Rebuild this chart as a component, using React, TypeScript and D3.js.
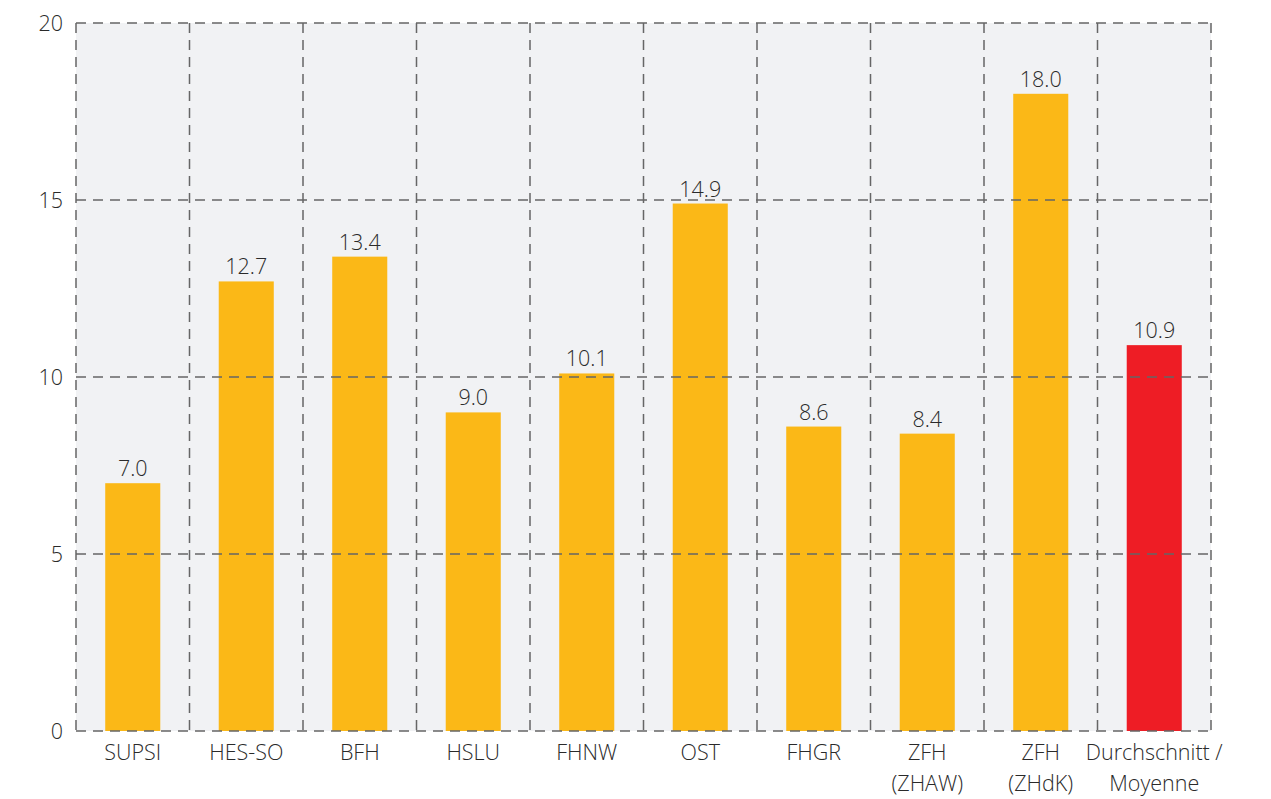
import * as d3 from "d3";

const categories = [
  ["SUPSI"],
  ["HES-SO"],
  ["BFH"],
  ["HSLU"],
  ["FHNW"],
  ["OST"],
  ["FHGR"],
  ["ZFH", "(ZHAW)"],
  ["ZFH", "(ZHdK)"],
  ["Durchschnitt /", "Moyenne"],
];
const values = [7.0, 12.7, 13.4, 9.0, 10.1, 14.9, 8.6, 8.4, 18.0, 10.9];
const yTicks = [0, 5, 10, 15, 20];

export default function App() {
  const width = 1271;
  const height = 799;
  const margin = { top: 23, right: 60, bottom: 68, left: 76 };
  const plotRight = width - margin.right;
  const plotBottom = height - margin.bottom;
  const font = "'Open Sans', 'Noto Sans', sans-serif";
  const fs = 21.5;
  const fw = 300;

  const keys = categories.map((c) => c.join(" "));

  const x = d3
    .scaleBand()
    .domain(keys)
    .range([margin.left, plotRight])
    .paddingInner(0)
    .paddingOuter(0);

  const y = d3.scaleLinear().domain([0, 20]).range([plotBottom, margin.top]);

  const barW = x.bandwidth() * 0.485;
  const dash = "10 7";

  return (
    <svg
      width={width}
      height={height}
      style={{ display: "block", position: "absolute", left: 0, top: 0 }}
    >
      {/* background */}
      <rect
        x={margin.left}
        y={margin.top}
        width={plotRight - margin.left}
        height={plotBottom - margin.top}
        fill="#f1f2f4"
      />

      {/* bars */}
      {values.map((v, i) => {
        const cx = (x(keys[i]) as number) + x.bandwidth() / 2;
        return (
          <g key={i}>
            <rect
              x={cx - barW / 2}
              y={y(v)}
              width={barW}
              height={plotBottom - y(v)}
              fill={i === values.length - 1 ? "#ee1d25" : "#fbb817"}
            />
            <text
              x={cx}
              y={y(v) - 7}
              textAnchor="middle"
              fontSize={fs}
              fontWeight={fw}
              fontFamily={font}
              fill="#2a2a2a"
            >
              {v.toFixed(1)}
            </text>
          </g>
        );
      })}

      {/* horizontal grid */}
      {yTicks.map((t) => (
        <g key={t}>
          <line
            x1={margin.left}
            x2={plotRight}
            y1={y(t)}
            y2={y(t)}
            stroke="#666"
            strokeWidth={1.5}
            strokeDasharray={dash}
          />
          <text
            x={margin.left - 13}
            y={y(t)}
            dy="0.35em"
            textAnchor="end"
            fontSize={fs}
            fontWeight={fw}
            fontFamily={font}
            fill="#2a2a2a"
          >
            {t}
          </text>
        </g>
      ))}

      {/* vertical grid */}
      {[...keys.map((k) => x(k) as number), plotRight].map((gx, i) => (
        <line
          key={i}
          x1={gx}
          x2={gx}
          y1={margin.top}
          y2={plotBottom}
          stroke="#666"
          strokeWidth={1.5}
          strokeDasharray={dash}
        />
      ))}

      {/* x labels */}
      {categories.map((lines, i) => {
        const cx = (x(keys[i]) as number) + x.bandwidth() / 2;
        return (
          <text
            key={i}
            x={cx}
            y={plotBottom + 29}
            textAnchor="middle"
            fontSize={fs}
            fontWeight={fw}
            fontFamily={font}
            fill="#2a2a2a"
          >
            {lines.map((l, j) => (
              <tspan key={j} x={cx} dy={j === 0 ? 0 : 31}>
                {l}
              </tspan>
            ))}
          </text>
        );
      })}
    </svg>
  );
}
